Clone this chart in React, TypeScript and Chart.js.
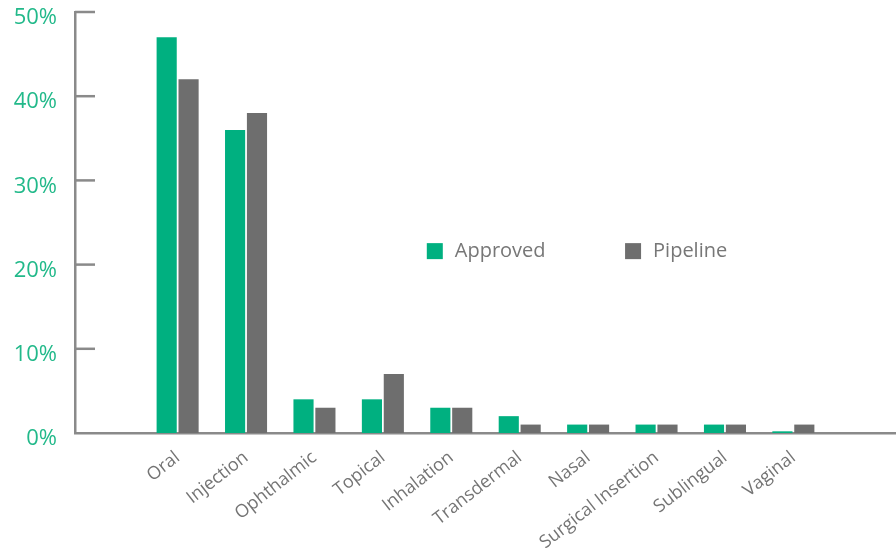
import React, { useEffect, useRef } from "react";
import { Chart, registerables } from "chart.js";

Chart.register(...registerables);

const categories = ["", "Oral", "Injection", "Ophthalmic", "Topical", "Inhalation", "Transdermal", "Nasal", "Surgical Insertion", "Sublingual", "Vaginal", ""];
const approved = [null, 47, 36, 4, 4, 3, 2, 1, 1, 1, 0.2, null];
const pipeline = [null, 42, 38, 3, 7, 3, 1, 1, 1, 1, 1, null];
const yTicks = [0, 10, 20, 30, 40, 50];
const seriesNames = ["Approved", "Pipeline"];

const GREEN = "#00b080";
const GREY = "#6e6e6e";
const AXIS = "#8a8a8a";
const FONT = "'Open Sans', 'Noto Sans', sans-serif";

const innerTicks = {
  id: "innerTicks",
  afterDraw(chart: any) {
    const y = chart.scales.y;
    const a = chart.chartArea;
    const ctx = chart.ctx;
    ctx.save();
    ctx.strokeStyle = AXIS;
    ctx.lineWidth = 2.5;
    y.ticks.forEach((t: any) => {
      if (t.value === 0) return;
      const py = y.getPixelForValue(t.value);
      ctx.beginPath();
      ctx.moveTo(a.left, py);
      ctx.lineTo(a.left + 20, py);
      ctx.stroke();
    });
    ctx.restore();
  },
};

const innerLegend = {
  id: "innerLegend",
  afterDraw(chart: any) {
    const a = chart.chartArea;
    const ctx = chart.ctx;
    const w = a.right - a.left;
    const h = a.bottom - a.top;
    const xs = [a.left + w * 0.4285, a.left + w * 0.67];
    const cy = a.top + h * 0.568;
    ctx.save();
    ctx.font = `20px ${FONT}`;
    ctx.textBaseline = "middle";
    ctx.textAlign = "left";
    chart.data.datasets.forEach((ds: any, i: number) => {
      ctx.fillStyle = ds.backgroundColor;
      ctx.fillRect(xs[i], cy - 8, 16, 16);
      ctx.fillStyle = "#777777";
      ctx.fillText(ds.label, xs[i] + 28, cy);
    });
    ctx.restore();
  },
};

export default function App() {
  const ref = useRef<HTMLCanvasElement | null>(null);
  useEffect(() => {
    document.body.style.margin = "0";
    const chart = new Chart(ref.current as HTMLCanvasElement, {
      type: "bar",
      data: {
        labels: categories,
        datasets: [
          { label: seriesNames[0], data: approved, backgroundColor: GREEN, barPercentage: 0.92, categoryPercentage: 0.64 },
          { label: seriesNames[1], data: pipeline, backgroundColor: GREY, barPercentage: 0.92, categoryPercentage: 0.64 },
        ],
      },
      options: {
        animation: false,
        responsive: false,
        layout: { padding: { top: 12, right: -3, left: 0, bottom: 0 } },
        plugins: { legend: { display: false }, tooltip: { enabled: false } },
        scales: {
          x: {
            grid: { display: false },
            border: { display: true, color: AXIS, width: 2.5 },
            ticks: {
              color: "#747474",
              font: { family: FONT, size: 18 },
              minRotation: 38,
              maxRotation: 38,
              autoSkip: false,
              padding: 6,
            },
            afterFit(s: any) { s.height = 119; s.paddingLeft = 0; s.paddingRight = 0; },
          },
          y: {
            min: 0,
            max: 50,
            afterBuildTicks(s: any) { s.ticks = yTicks.map((v) => ({ value: v })); },
            grid: { display: false },
            border: { display: true, color: AXIS, width: 2.5 },
            ticks: {
              color: "#22b98a",
              font: { family: FONT, size: 22 },
              padding: 10,
              labelOffset: 6,
              callback: (v: any) => `${v}%`,
            },
            afterFit(s: any) { s.width = 75; s.paddingTop = 0; s.paddingBottom = 0; },
          },
        },
      },
      plugins: [innerTicks, innerLegend],
    });
    return () => chart.destroy();
  }, []);
  return (
    <div style={{ width: 896, height: 552, background: "#fff" }}>
      <canvas ref={ref} width={896} height={552} />
    </div>
  );
}
